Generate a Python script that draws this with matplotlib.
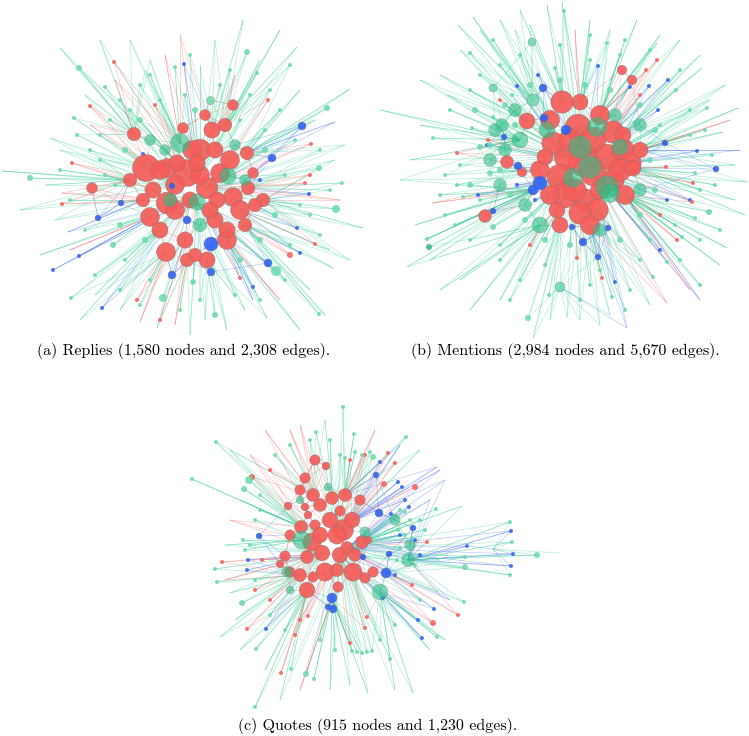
import numpy as np
import matplotlib.pyplot as plt
from matplotlib.collections import LineCollection

# colours of the three communities
NODE_COL = {'r': '#f55d59', 'g': '#6ad9ad', 't': '#2cbf86', 'b': '#2f62f4'}
EDGE_COL = {'r': '#f26a66', 'g': '#3fd19c', 't': '#3fd19c', 'b': '#4d74f0'}

##############################
# (a) replies network        #
##############################
# hubs: (x, y, radius, community), pixel coords of the picture
a_hubs = [
    (146, 168, 10, 'r'), (167, 168, 7, 'r'), (187, 173, 10, 'r'), (200, 150, 8, 'r'), (192, 150, 7, 'r'),
    (207, 188, 8, 'r'), (220, 173, 7, 'r'), (230, 160, 7, 'r'), (233, 197, 7, 'r'), (240, 210, 7, 'r'),
    (227, 230, 6, 'r'), (167, 203, 8, 'r'), (150, 217, 7, 'r'), (143, 200, 5, 'r'), (153, 190, 6, 'r'),
    (175, 210, 7, 'r'), (166, 252, 7, 'r'), (185, 240, 6, 'r'), (187, 260, 5, 'r'), (207, 260, 6, 'r'),
    (227, 240, 7, 'r'), (212, 130, 6, 'r'), (205, 115, 4, 'r'), (183, 128, 4, 'r'), (134, 134, 5, 'r'),
    (92, 188, 4, 'r'), (263, 200, 5, 'r'), (248, 188, 5, 'r'), (253, 173, 4, 'r'), (233, 105, 4, 'r'),
    (217, 200, 6, 'r'), (160, 170, 7, 'r'), (177, 163, 6, 'r'), (197, 163, 6, 'r'), (247, 153, 5, 'r'),
    (175, 185, 7, 'r'), (200, 175, 7, 'r'), (215, 150, 6, 'r'), (190, 200, 6, 'r'), (160, 230, 6, 'r'),
    (195, 255, 5, 'r'), (215, 220, 6, 'r'), (245, 225, 5, 'r'), (130, 180, 5, 'r'), (225, 125, 5, 'r'),
    (255, 205, 5, 'r'), (210, 210, 6, 'r'),
    (180, 143, 7, 't'), (197, 202, 6, 't'), (228, 176, 6, 't'), (170, 200, 5, 't'), (210, 100, 4, 'g'),
    (150, 140, 4, 't'), (245, 180, 4, 't'), (200, 225, 5, 't'), (235, 145, 4, 't'), (165, 150, 4, 't'),
    (211, 244, 7, 'b'), (172, 186, 3, 'b'), (187, 220, 4, 'b'), (272, 158, 4, 'b'), (302, 126, 4, 'b'),
    (121, 203, 3, 'b'), (98, 218, 3, 'b'), (172, 275, 4, 'b'), (211, 272, 4, 'b'), (268, 263, 4, 'b'),
]
# small nodes: (x, y, radius, community)
a_leaves = [
    (53, 270, 2, 'b'), (79, 256, 2, 'b'), (102, 308, 2, 'b'), (253, 287, 2, 'b'), (184, 64, 2, 'b'),
    (309, 194, 2, 'b'), (143, 154, 2, 'b'), (260, 180, 2, 'b'), (297, 228, 2, 'b'), (300, 253, 2, 'b'),
    (276, 271, 5, 'g'), (336, 209, 4, 'g'), (163, 298, 4, 'g'), (215, 315, 3, 'g'), (113, 245, 3, 'g'),
    (247, 52, 3, 'g'), (79, 68, 3, 'g'), (30, 178, 3, 'g'), (319, 168, 3, 'g'), (327, 108, 3, 'g'),
    (105, 87, 2, 'g'), (71, 298, 2, 'g'), (319, 314, 2, 'g'), (342, 183, 2, 'g'), (193, 282, 3, 'g'),
    (257, 73, 2, 'g'), (175, 67, 2, 'g'), (290, 65, 2, 'g'), (74, 118, 2, 'g'), (77, 135, 2, 'g'),
    (100, 135, 2, 'g'), (120, 100, 2, 'g'), (140, 85, 2, 'g'), (150, 75, 2, 'g'), (190, 55, 2, 'g'),
    (220, 85, 2, 'g'), (270, 90, 2, 'g'), (280, 110, 2, 'g'), (295, 140, 2, 'g'), (320, 150, 2, 'g'),
    (330, 190, 2, 'g'), (310, 215, 2, 'g'), (320, 235, 2, 'g'), (290, 245, 2, 'g'), (260, 300, 2, 'g'),
    (235, 295, 2, 'g'), (200, 300, 2, 'g'), (180, 310, 2, 'g'), (140, 305, 2, 'g'), (120, 290, 2, 'g'),
    (95, 275, 2, 'g'), (85, 230, 2, 'g'), (70, 200, 2, 'g'), (60, 170, 2, 'g'), (100, 160, 2, 'g'),
    (110, 120, 2, 'g'), (130, 110, 2, 'g'), (240, 120, 2, 'g'), (265, 130, 2, 'g'), (285, 175, 2, 'g'),
    (300, 205, 2, 'g'), (285, 280, 2, 'g'), (150, 280, 2, 'g'), (125, 260, 2, 'g'), (105, 175, 2, 'g'),
    (90, 150, 2, 'g'), (160, 100, 2, 'g'), (185, 95, 2, 'g'), (230, 70, 2, 'g'), (250, 95, 2, 'g'),
    (125, 150, 3, 'g'), (140, 120, 3, 'g'), (265, 150, 3, 'g'), (275, 215, 3, 'g'), (260, 240, 3, 'g'),
    (240, 260, 3, 'g'), (145, 240, 3, 'g'), (120, 225, 3, 'g'), (115, 185, 2, 'g'), (195, 110, 3, 'g'),
    (114, 62, 2, 'r'), (90, 106, 2, 'r'), (62, 204, 2, 'r'), (72, 163, 2, 'r'), (311, 144, 2, 'r'),
    (315, 244, 2, 'r'), (290, 255, 3, 'r'), (240, 278, 2, 'r'), (310, 175, 2, 'r'), (305, 183, 2, 'r'),
    (155, 105, 2, 'r'), (268, 100, 2, 'r'), (137, 300, 2, 'r'), (160, 320, 2, 'r'),
]
# edge ends without a visible node: (x, y, community)
a_tips = [
    (60, 48, 'g'), (2, 171, 'g'), (50, 138, 'g'), (350, 89, 'g'), (363, 228, 'g'), (243, 20, 'g'),
    (297, 47, 'g'), (325, 315, 'g'), (157, 328, 'g'), (227, 330, 'g'), (267, 318, 'g'), (140, 322, 'r'),
    (68, 232, 'b'), (335, 122, 'b'), (62, 193, 'r'), (90, 125, 'r'), (333, 268, 'g'), (253, 300, 'b'),
    (130, 40, 'g'), (180, 35, 'r'), (215, 40, 'g'), (345, 145, 'g'), (350, 260, 'g'), (20, 210, 'g'),
    (40, 255, 'g'), (80, 320, 'g'), (190, 335, 'g'), (300, 330, 'g'), (280, 30, 'g'), (100, 40, 'g'),
    (150, 60, 'g'), (165, 55, 'r'), (200, 65, 'g'), (235, 75, 'r'), (260, 60, 'g'), (300, 90, 'g'),
    (315, 120, 'g'), (335, 160, 'g'), (340, 200, 'r'), (330, 250, 'g'), (310, 290, 'g'), (280, 300, 'r'),
    (245, 310, 'g'), (205, 320, 'g'), (175, 325, 'r'), (120, 310, 'g'), (95, 295, 'g'), (70, 250, 'r'),
    (55, 220, 'g'), (45, 185, 'g'), (60, 150, 'g'), (85, 95, 'g'), (115, 80, 'r'), (145, 70, 'g'),
]

##############################
# (b) mentions network       #
##############################
b_hubs = [
    (562, 102, 7, 'r'), (580, 102, 5, 'r'), (527, 121, 5, 'r'), (578, 127, 8, 'r'), (593, 140, 8, 'r'),
    (567, 157, 8, 'r'), (583, 160, 10, 'r'), (607, 157, 8, 'r'), (623, 150, 7, 'r'), (613, 132, 7, 'r'),
    (553, 143, 7, 'r'), (545, 157, 5, 'r'), (560, 177, 8, 'r'), (593, 173, 8, 'r'), (613, 180, 7, 'r'),
    (630, 163, 7, 'r'), (565, 195, 8, 'r'), (585, 200, 7, 'r'), (597, 210, 7, 'r'), (580, 213, 7, 'r'),
    (557, 210, 5, 'r'), (507, 162, 4, 'r'), (485, 216, 4, 'r'), (522, 172, 3, 'r'), (633, 168, 5, 'r'),
    (623, 135, 5, 'r'), (622, 70, 3, 'r'), (632, 80, 3, 'r'),
    (550, 120, 6, 'r'), (600, 115, 6, 'r'), (570, 140, 7, 'r'), (620, 170, 7, 'r'), (550, 195, 6, 'r'),
    (575, 190, 7, 'r'), (600, 190, 6, 'r'), (625, 195, 6, 'r'), (590, 225, 6, 'r'), (560, 225, 5, 'r'),
    (640, 150, 5, 'r'), (540, 170, 6, 'r'),
    (580, 147, 7, 't'), (573, 178, 6, 't'), (590, 167, 7, 't'), (607, 187, 7, 't'), (597, 127, 6, 't'),
    (547, 130, 5, 't'), (533, 100, 6, 'g'), (502, 125, 4, 't'), (610, 193, 6, 't'), (620, 147, 5, 't'),
    (560, 287, 5, 'g'), (532, 42, 4, 'g'), (493, 88, 4, 'g'), (520, 140, 5, 't'), (505, 150, 4, 't'),
    (495, 130, 4, 't'), (615, 115, 4, 't'), (640, 190, 4, 't'), (540, 225, 5, 't'), (600, 230, 4, 't'),
    (515, 110, 4, 't'), (490, 160, 4, 't'), (500, 185, 4, 't'), (525, 205, 4, 't'), (640, 125, 4, 't'),
    (543, 88, 4, 'b'), (544, 118, 4, 'b'), (566, 130, 5, 'b'), (518, 166, 4, 'b'), (540, 183, 7, 'b'),
    (533, 190, 5, 'b'), (504, 137, 3, 'b'), (493, 211, 3, 'b'), (583, 242, 4, 'b'), (598, 257, 3, 'b'),
    (608, 228, 3, 'b'), (572, 227, 3, 'b'), (716, 169, 3, 'b'), (665, 143, 3, 'b'),
]
b_leaves = [
    (615, 282, 2, 'b'), (538, 75, 2, 'b'), (517, 86, 2, 'b'), (598, 66, 2, 'b'), (668, 80, 2, 'b'),
    (649, 86, 2, 'b'), (667, 200, 2, 'b'), (630, 87, 2, 'b'), (487, 145, 2, 'b'), (517, 185, 2, 'b'),
    (535, 200, 2, 'b'), (697, 151, 2, 'b'), (658, 110, 2, 'b'), (478, 195, 2, 'b'), (660, 250, 2, 'b'),
    (690, 200, 2, 'b'),
    (646, 70, 2, 'r'), (657, 60, 2, 'r'), (693, 183, 2, 'r'), (666, 167, 2, 'r'), (692, 202, 2, 'r'),
    (677, 240, 2, 'r'), (602, 278, 2, 'r'), (577, 258, 2, 'r'), (457, 153, 2, 'r'), (488, 140, 2, 'r'),
    (500, 100, 2, 'r'), (640, 95, 2, 'r'), (660, 215, 2, 'r'), (530, 245, 2, 'r'),
    (470, 53, 2, 'g'), (493, 40, 2, 'g'), (433, 138, 2, 'g'), (564, 11, 2, 'g'), (607, 43, 2, 'g'),
    (528, 318, 3, 'g'), (429, 247, 3, 't'), (463, 197, 2, 'g'), (709, 212, 3, 'g'), (707, 108, 2, 'g'),
    (712, 155, 2, 'g'), (695, 218, 2, 'g'), (653, 277, 2, 'g'), (667, 262, 2, 'g'), (612, 297, 2, 'g'),
    (549, 295, 2, 'g'), (695, 173, 2, 'g'), (682, 237, 2, 'g'), (427, 239, 2, 'g'), (480, 200, 2, 'g'),
    (472, 128, 2, 'g'), (555, 68, 2, 'g'), (676, 90, 2, 'g'), (457, 185, 2, 'g'), (512, 95, 2, 'g'),
    (493, 117, 2, 'g'), (480, 147, 3, 'g'), (490, 173, 3, 'g'), (493, 227, 3, 'g'), (450, 110, 2, 'g'),
    (460, 165, 2, 'g'), (445, 215, 2, 'g'), (470, 240, 2, 'g'), (500, 260, 2, 'g'), (520, 280, 2, 'g'),
    (580, 300, 2, 'g'), (630, 290, 2, 'g'), (650, 240, 2, 'g'), (680, 260, 2, 'g'), (700, 190, 2, 'g'),
    (705, 130, 2, 'g'), (690, 110, 2, 'g'), (680, 70, 2, 'g'), (650, 50, 2, 'g'), (620, 55, 2, 'g'),
    (590, 35, 2, 'g'), (560, 45, 2, 'g'), (520, 55, 2, 'g'), (500, 65, 2, 'g'), (470, 90, 2, 'g'),
    (445, 175, 2, 'g'), (455, 225, 2, 'g'), (500, 245, 2, 'g'), (545, 265, 2, 'g'), (600, 270, 2, 'g'),
    (640, 260, 2, 'g'), (675, 225, 2, 'g'), (700, 240, 2, 'g'), (715, 185, 2, 'g'), (690, 135, 2, 'g'),
    (660, 125, 2, 'g'), (480, 75, 2, 'g'), (590, 60, 2, 'g'), (625, 40, 2, 'g'), (440, 195, 2, 'g'),
    (510, 300, 2, 'g'), (590, 285, 2, 'g'), (625, 310, 2, 'g'), (700, 285, 2, 'g'), (720, 230, 2, 'g'),
    (505, 105, 3, 'g'), (515, 125, 3, 'g'), (490, 145, 3, 'g'), (500, 170, 3, 'g'), (510, 195, 3, 'g'),
    (525, 220, 3, 'g'), (545, 240, 3, 'g'), (570, 245, 3, 'g'), (620, 240, 3, 'g'), (640, 215, 3, 'g'),
    (655, 190, 3, 'g'), (650, 160, 3, 'g'), (655, 130, 3, 'g'), (640, 105, 3, 'g'), (610, 90, 3, 'g'),
    (585, 85, 3, 'g'), (560, 80, 3, 'g'), (530, 85, 3, 'g'), (475, 110, 3, 'g'), (470, 185, 3, 'g'),
]
b_tips = [
    (547, 5, 'g'), (562, 2, 'g'), (473, 17, 'g'), (458, 25, 'g'), (380, 110, 'g'), (407, 267, 'g'),
    (425, 240, 'g'), (533, 338, 'g'), (567, 317, 'g'), (627, 328, 'b'), (667, 303, 'r'), (727, 248, 'g'),
    (747, 182, 'g'), (738, 108, 'g'), (702, 68, 'g'), (637, 20, 'g'), (657, 43, 'g'), (447, 95, 'g'),
    (432, 203, 'r'), (723, 132, 'g'), (500, 20, 'g'), (520, 10, 'g'), (590, 20, 'g'), (680, 40, 'g'),
    (740, 150, 'b'), (745, 215, 'g'), (700, 300, 'b'), (600, 325, 'g'), (470, 310, 'g'), (440, 290, 'g'),
    (400, 180, 'g'), (420, 80, 'g'), (480, 30, 'g'), (710, 100, 'g'),
    (530, 25, 'g'), (575, 30, 'r'), (610, 30, 'g'), (660, 35, 'g'), (700, 55, 'g'), (725, 85, 'g'),
    (730, 120, 'r'), (735, 165, 'g'), (735, 200, 'g'), (720, 265, 'g'), (690, 290, 'r'), (650, 305, 'g'),
    (610, 315, 'g'), (580, 320, 'g'), (550, 320, 'g'), (500, 300, 'g'), (460, 280, 'g'), (430, 260, 'g'),
    (415, 225, 'g'), (410, 160, 'g'), (420, 125, 'g'), (440, 75, 'g'), (460, 50, 'g'), (515, 30, 'g'),
]

##############################
# (c) quotes network         #
##############################
c_hubs = [
    (343, 530, 8, 'r'), (337, 535, 7, 'r'), (332, 498, 5, 'r'), (340, 511, 4, 'r'), (313, 495, 5, 'r'),
    (305, 507, 3, 'r'), (301, 527, 5, 'r'), (290, 535, 4, 'r'), (312, 542, 7, 'r'), (315, 525, 4, 'r'),
    (322, 553, 6, 'r'), (307, 557, 5, 'r'), (285, 556, 4, 'r'), (280, 564, 3, 'r'), (325, 572, 7, 'r'),
    (337, 570, 5, 'r'), (353, 572, 7, 'r'), (347, 548, 5, 'r'), (362, 542, 5, 'r'), (365, 578, 4, 'r'),
    (373, 572, 4, 'r'), (307, 590, 6, 'r'), (313, 577, 4, 'r'), (290, 572, 4, 'r'), (338, 587, 4, 'r'),
    (305, 478, 4, 'r'), (326, 466, 3, 'r'), (288, 506, 3, 'r'), (308, 515, 3, 'r'), (368, 540, 3, 'r'),
    (352, 520, 6, 'r'), (330, 520, 6, 'r'),
    (320, 505, 5, 'r'), (345, 495, 5, 'r'), (320, 535, 6, 'r'), (355, 555, 5, 'r'), (300, 575, 5, 'r'),
    (340, 555, 6, 'r'), (315, 460, 4, 'r'), (300, 490, 4, 'r'), (360, 500, 4, 'r'),
    (302, 540, 7, 't'), (287, 572, 4, 't'), (380, 592, 6, 't'), (365, 532, 4, 't'), (328, 487, 3, 't'),
    (408, 560, 5, 't'), (395, 520, 4, 't'), (410, 545, 4, 't'), (300, 500, 3, 't'), (290, 590, 3, 't'),
    (379, 513, 4, 'b'), (386, 573, 5, 'b'), (332, 598, 5, 'b'), (333, 609, 4, 'b'), (328, 607, 3, 'b'),
    (413, 528, 3, 'b'), (376, 475, 3, 'b'), (259, 536, 3, 'b'), (363, 557, 3, 'b'), (389, 554, 3, 'b'),
]
c_leaves = [
    (367, 617, 2, 'r'), (308, 616, 2, 'r'), (365, 628, 2, 'r'), (252, 477, 3, 'r'), (433, 623, 3, 'r'),
    (247, 629, 2, 'r'), (222, 562, 2, 'r'), (458, 615, 2, 'r'), (384, 484, 3, 'r'), (415, 487, 3, 'r'),
    (395, 463, 2, 'r'), (388, 453, 2, 'r'), (427, 542, 2, 'r'), (412, 585, 2, 'r'), (281, 673, 2, 'r'),
    (295, 635, 2, 'r'), (350, 643, 2, 'r'), (270, 600, 2, 'r'), (255, 590, 2, 'r'), (300, 620, 2, 'r'),
    (350, 460, 2, 'r'), (365, 455, 2, 'r'), (270, 470, 2, 'r'), (262, 560, 2, 'r'),
    (467, 546, 2, 'b'), (383, 598, 2, 'b'), (398, 482, 2, 'b'), (391, 514, 2, 'b'), (434, 609, 2, 'b'),
    (422, 638, 2, 'b'), (418, 620, 2, 'b'), (266, 629, 2, 'b'), (247, 570, 2, 'b'), (248, 560, 2, 'b'),
    (380, 462, 2, 'b'), (402, 487, 2, 'b'), (409, 507, 2, 'b'), (400, 535, 2, 'b'), (415, 540, 2, 'b'),
    (420, 555, 2, 'b'), (405, 500, 2, 'b'), (395, 575, 2, 'b'),
    (216, 442, 2, 'g'), (192, 479, 2, 'g'), (249, 480, 4, 'g'), (244, 489, 3, 'g'), (465, 567, 3, 'g'),
    (465, 557, 2, 'g'), (436, 509, 2, 'g'), (464, 602, 2, 'g'), (437, 637, 2, 'g'), (390, 659, 2, 'g'),
    (306, 674, 3, 'g'), (291, 669, 2, 'g'), (255, 707, 2, 'g'), (314, 679, 2, 'g'), (316, 432, 2, 'g'),
    (343, 407, 2, 'g'), (406, 437, 2, 'g'), (354, 434, 2, 'g'), (373, 457, 3, 'g'), (242, 603, 3, 'g'),
    (215, 569, 2, 'g'), (217, 582, 2, 'g'), (256, 649, 2, 'g'), (243, 540, 2, 'g'), (245, 550, 2, 'g'),
    (340, 455, 2, 'g'), (345, 458, 2, 'g'), (355, 452, 2, 'g'), (362, 455, 2, 'g'), (370, 452, 2, 'g'),
    (357, 652, 2, 'g'), (362, 653, 2, 'g'), (367, 652, 2, 'g'), (372, 651, 2, 'g'), (352, 651, 2, 'g'),
    (395, 515, 2, 'g'), (400, 510, 2, 'g'), (405, 512, 2, 'g'), (410, 520, 2, 'g'), (398, 530, 2, 'g'),
    (405, 535, 2, 'g'), (412, 538, 2, 'g'), (400, 548, 2, 'g'), (397, 560, 2, 'g'), (415, 565, 2, 'g'),
    (420, 520, 2, 'g'), (425, 530, 2, 'g'), (260, 510, 2, 'g'), (255, 520, 2, 'g'), (250, 545, 2, 'g'),
    (255, 580, 2, 'g'), (270, 615, 2, 'g'), (285, 630, 2, 'g'), (320, 640, 2, 'g'), (335, 650, 2, 'g'),
    (380, 640, 2, 'g'), (395, 625, 2, 'g'), (420, 600, 2, 'g'), (275, 455, 2, 'g'), (290, 445, 2, 'g'),
    (310, 440, 2, 'g'), (330, 440, 2, 'g'), (260, 495, 2, 'g'),
]
c_tips = [
    (462, 506, 'g'), (437, 467, 'b'), (438, 592, 'g'), (368, 693, 'g'), (413, 693, 'g'), (220, 637, 'g'),
    (230, 593, 'g'), (440, 470, 'b'), (265, 430, 'r'), (230, 450, 'g'), (230, 520, 'r'), (235, 620, 'g'),
    (280, 700, 'g'), (330, 690, 'g'), (395, 690, 'g'), (445, 640, 'g'), (450, 600, 'b'), (445, 480, 'b'),
    (420, 450, 'g'), (290, 430, 'r'),
    (300, 425, 'r'), (325, 420, 'g'), (375, 430, 'r'), (400, 445, 'b'), (430, 500, 'b'), (440, 560, 'g'),
    (430, 650, 'g'), (350, 685, 'g'), (300, 690, 'r'), (265, 670, 'g'), (240, 650, 'g'), (225, 580, 'r'),
    (225, 545, 'g'), (240, 500, 'g'), (250, 455, 'r'),
]
# small star hanging off to the right of (c)
c_tail_hub = (493, 549)
c_tail = [
    (510, 522, 2, 'g'), (511, 531, 2, 'b'), (512, 542, 2, 'g'), (513, 554, 2, 'b'), (511, 566, 2, 'b'),
    (510, 575, 2, 'g'), (537, 555, 3, 'g'),
]
c_tail_tip = (560, 553)

captions = [
    (184, 351, '(a) Replies (1,580 nodes and 2,308 edges).'),
    (565, 351, '(b) Mentions (2,984 nodes and 5,670 edges).'),
    (378, 726, '(c) Quotes (915 nodes and 1,230 edges).'),
]


def px2s(r, k=1.0):
    # radius in pixels (dpi 100) -> scatter marker area
    return (2 * r * k * 0.72) ** 2


def draw_net(ax, hubs, leaves, tips, grow, extra_segs=(), extra_cols=()):
    hx = np.array([h[0] for h in hubs], float)
    hy = np.array([h[1] for h in hubs], float)
    hr = np.array([h[2] for h in hubs], float)
    big = hr >= 5
    bx, by = hx[big], hy[big]
    cx = np.average(bx, weights=hr[big])
    cy = np.average(by, weights=hr[big])

    segs, cols = list(extra_segs), list(extra_cols)
    ends = [(l[0], l[1], l[3]) for l in leaves] + list(tips)
    for x, y, c in ends:
        # links to hubs further and further in
        for f in (0.7, 0.4, 0.1):
            px, py = cx + f * (x - cx), cy + f * (y - cy)
            j = np.argmin(np.hypot(bx - px, by - py))
            segs.append([(x, y), (bx[j], by[j])])
            cols.append(EDGE_COL[c])
    # links inside the core
    for i, h in enumerate(hubs):
        d = np.hypot(hx - hx[i], hy - hy[i])
        for j in np.argsort(d)[1:5]:
            segs.append([(hx[i], hy[i]), (hx[j], hy[j])])
            cols.append(EDGE_COL[h[3]])

    ax.add_collection(LineCollection(segs, colors=cols, linewidths=0.45, alpha=0.42, zorder=1))

    ax.scatter([l[0] for l in leaves], [l[1] for l in leaves],
               s=[px2s(l[2]) for l in leaves], c=[NODE_COL[l[3]] for l in leaves],
               alpha=0.85, linewidths=0, zorder=2)
    # red hubs first, the others go on top half see-through (grey-green overlaps)
    groups = (('r', 0.92, 3, grow), ('b', 0.9, 4, 1.0), ('t', 0.6, 4, grow), ('g', 0.85, 4, 1.0))
    for group, alpha, z, k in groups:
        idx = [i for i, h in enumerate(hubs) if h[3] == group]
        idx.sort(key=lambda i: -hr[i])
        ax.scatter(hx[idx], hy[idx], s=[px2s(hr[i], k) for i in idx],
                   c=NODE_COL[group], alpha=alpha, linewidths=0.3,
                   edgecolors='#777777', zorder=z)


fig = plt.figure(figsize=(7.49, 7.36), dpi=100)
ax = fig.add_axes([0, 0, 1, 1])
ax.set_xlim(0, 749)
ax.set_ylim(736, 0)
ax.axis('off')

draw_net(ax, a_hubs, a_leaves, a_tips, 1.35)
draw_net(ax, b_hubs, b_leaves, b_tips, 1.6)

# tail of (c): cluster -> blue node -> small hub -> leaves
tail_segs = [[(386, 573), (467, 546)], [(467, 546), c_tail_hub], [c_tail_hub, c_tail_tip]]
tail_cols = [EDGE_COL['b'], EDGE_COL['b'], EDGE_COL['g']]
for x, y, r, c in c_tail:
    tail_segs.append([c_tail_hub, (x, y)])
    tail_cols.append(EDGE_COL[c])
draw_net(ax, c_hubs, c_leaves + c_tail, c_tips, 1.3, tail_segs, tail_cols)

for x, y, txt in captions:
    ax.text(x, y, txt, ha='center', va='center', fontfamily='cmr10', fontsize=11.5)

fig.savefig('out.png', dpi=100)
